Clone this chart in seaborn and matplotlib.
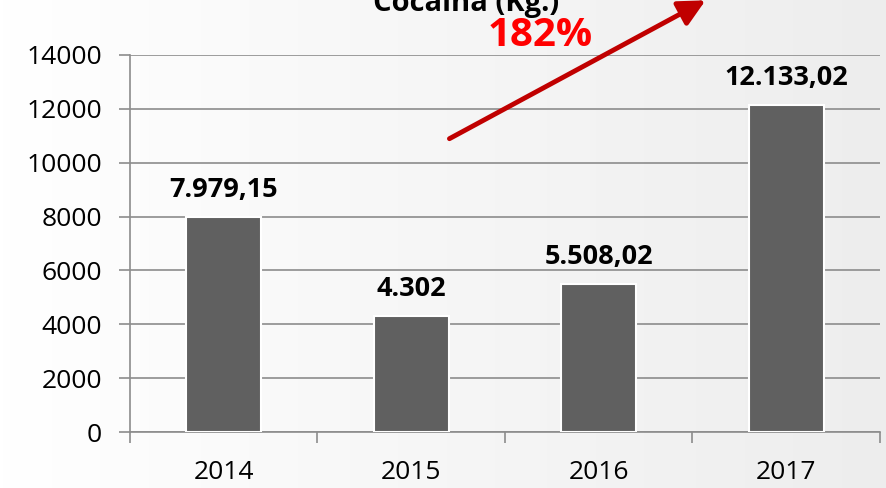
import numpy as np
import pandas as pd
import matplotlib
matplotlib.use("Agg")
import matplotlib.pyplot as plt
import seaborn as sns

# Datos
anios = ["2014", "2015", "2016", "2017"]
kilos = [7979.15, 4302, 5508.02, 12133.02]
etiquetas = ["7.979,15", "4.302", "5.508,02", "12.133,02"]
titulo = "Cocaína (Kg.)"
crecimiento = "182%"

df = pd.DataFrame({"anio": anios, "kg": kilos})

sns.set_style("white")
plt.rcParams["font.family"] = ["Open Sans", "DejaVu Sans"]
plt.rcParams["text.color"] = "black"

fig = plt.figure(figsize=(8.87, 4.88), dpi=100)

# Fondo con degradado suave hacia la derecha
bg = fig.add_axes([0, 0, 1, 1], zorder=-5)
grad = np.linspace(1.0, 0.93, 256).reshape(1, -1)
bg.imshow(np.dstack([grad, grad, grad]), aspect="auto", extent=[0, 1, 0, 1])
bg.axis("off")

ax = fig.add_axes([130 / 887, 1 - 432 / 488, 750 / 887, 377 / 488])
ax.patch.set_alpha(0)

sns.barplot(data=df, x="anio", y="kg", order=anios, color="#606060",
            width=0.4, edgecolor="white", linewidth=1.5, saturation=1, ax=ax, zorder=3)

ax.set_xlim(-0.5, 3.5)
ax.set_ylim(0, 14000)
ax.set_yticks(np.arange(0, 14001, 2000))
ax.yaxis.grid(True, color="#8c8c8c", linewidth=1.2, zorder=0)
ax.set_axisbelow(True)
ax.set_xlabel("")
ax.set_ylabel("")

for s in ["top", "right"]:
    ax.spines[s].set_visible(False)
for s in ["left", "bottom"]:
    ax.spines[s].set_color("#8c8c8c")
    ax.spines[s].set_linewidth(1.2)

ax.tick_params(axis="y", length=8, width=1.2, color="#8c8c8c", labelcolor="black",
               labelsize=19, pad=12, left=True)
ax.tick_params(axis="x", which="major", length=0, labelsize=19, pad=20, labelcolor="black")
ax.set_xticks(np.arange(-0.5, 3.6, 1), minor=True)
ax.tick_params(axis="x", which="minor", length=8, width=1.2, color="#8c8c8c", bottom=True)

for i, (v, t) in enumerate(zip(kilos, etiquetas)):
    ax.annotate(t, (i, v), xytext=(0, 10), textcoords="offset points",
                ha="center", va="bottom", fontsize=19.5, fontweight="bold", color="black")

fig.text(466 / 887, 1 - 3 / 488, titulo, ha="center", va="center",
         fontsize=21, fontweight="bold", color="black")
fig.text(540 / 887, 1 - 36 / 488, crecimiento, ha="center", va="center",
         fontsize=29, fontweight="bold", color="#ff0000")

fig.add_artist(matplotlib.patches.FancyArrowPatch(
    (447 / 887, 1 - 140 / 488), (708 / 887, 1 + 1 / 488),
    transform=fig.transFigure, arrowstyle="-|>,head_length=16,head_width=8",
    color="#c00000", linewidth=3.5, mutation_scale=1))

fig.savefig("out.png", dpi=100)
